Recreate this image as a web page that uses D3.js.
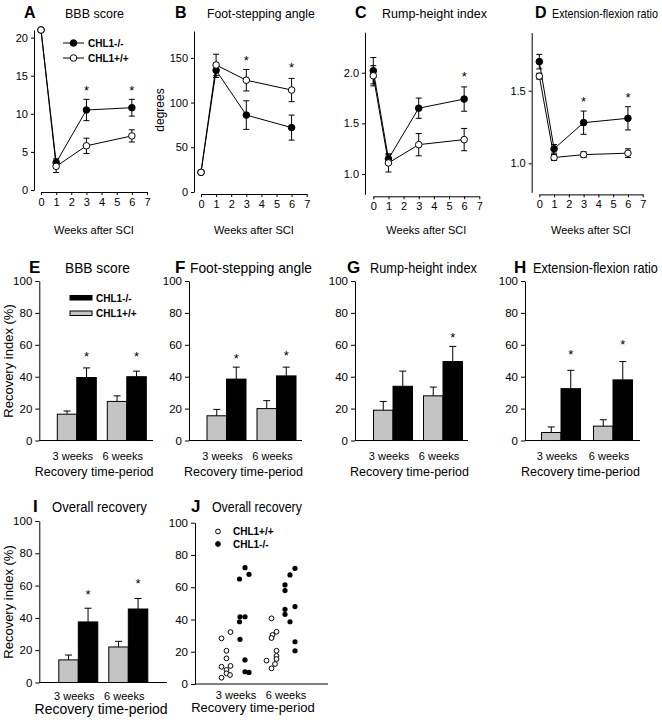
<!DOCTYPE html>
<html><head><meta charset="utf-8">
<script src="https://cdn.jsdelivr.net/npm/d3@7"></script>
<style>
body{margin:0;background:#fff}
svg{display:block;font-family:"Liberation Sans",Arial,sans-serif}
</style></head><body>
<svg id="fig" width="662" height="720"></svg>
<script>
/*** Data ***/
const weeks = [0, 1, 3, 6]
const weekTicks = [0, 1, 2, 3, 4, 5, 6, 7]
const groups = ["3 weeks", "6 weeks"]

// A - BBB score
const bbbKO = [21, 3.6, 10.5, 10.8], bbbKOerr = [0, 0.5, 1.4, 1.1]
const bbbWT = [21, 3.1, 5.8, 7.1], bbbWTerr = [0, 0.8, 1.0, 0.8]
const bbbStars = [[3, 13.4], [6, 13.4]]
// B - foot-stepping angle
const fsaKO = [22, 136, 86, 72], fsaKOerr = [0, 8, 16, 14]
const fsaWT = [22, 142, 125, 114], fsaWTerr = [0, 12, 12, 13]
const fsaStars = [[3, 150], [6, 142]]
// C - rump-height index
const rhiKO = [2.02, 1.15, 1.65, 1.74], rhiKOerr = [0.13, 0.04, 0.10, 0.12]
const rhiWT = [1.97, 1.11, 1.29, 1.34], rhiWTerr = [0.10, 0.09, 0.11, 0.11]
const rhiStars = [[6, 1.99]]
// D - extension-flexion ratio
const efrKO = [1.70, 1.10, 1.28, 1.31], efrKOerr = [0.05, 0.03, 0.08, 0.08]
const efrWT = [1.60, 1.04, 1.06, 1.07], efrWTerr = [0.02, 0.02, 0.02, 0.03]
const efrStars = [[3, 1.44], [6, 1.47]]

// E-I recovery index (%) : [3 weeks, 6 weeks]
const recBBB_WT = [16.5, 24.5], recBBB_WTerr = [2, 3.5]
const recBBB_KO = [39.5, 40], recBBB_KOerr = [6, 3.5]
const recBBBStars = [54, 54]
const recFSA_WT = [15.5, 20], recFSA_WTerr = [4, 5]
const recFSA_KO = [38.5, 40.5], recFSA_KOerr = [7.5, 5.5]
const recFSAStars = [53, 55]
const recRHI_WT = [19, 28], recRHI_WTerr = [5.5, 5.5]
const recRHI_KO = [34, 49.5], recRHI_KOerr = [9.5, 9.5]
const recRHIStars = [null, 66]
const recEFR_WT = [5, 9], recEFR_WTerr = [3.5, 4]
const recEFR_KO = [32.5, 38], recEFR_KOerr = [11.5, 11.5]
const recEFRStars = [55.5, 62]
const recAll_WT = [14, 22], recAll_WTerr = [3, 3.5]
const recAll_KO = [37.5, 45.5], recAll_KOerr = [8.5, 6.5]
const recAllStars = [56, 63]

// J - individual animals, [position, recovery %]; position 1 = 3 weeks, 2 = 6 weeks
const indivWT = [
	[0.71, 28.3], [0.89, 32.2], [0.81, 20.6], [0.81, 15.9], [0.71, 10.7],
	[0.89, 11.2], [0.81, 8.7], [0.81, 6.6], [0.88, 5.6], [0.71, 3.9],
	[1.71, 40.7], [1.81, 32.4], [1.73, 30.4], [1.71, 28.5], [1.81, 20.6],
	[1.81, 17.4], [1.81, 15.5], [1.61, 14.5], [1.78, 12.4], [1.71, 9.7]
]
const indivKO = [
	[1.18, 72.1], [1.07, 65.1], [1.26, 68.0], [1.08, 41.7], [1.18, 41.7],
	[1.07, 38.6], [1.08, 27.7], [1.18, 14.9], [1.18, 7.6], [1.26, 7.2],
	[2.18, 71.7], [2.08, 67.6], [1.98, 61.4], [1.98, 57.9], [1.98, 46.3],
	[2.18, 48.0], [1.98, 43.2], [2.08, 38.6], [2.18, 26.2], [2.18, 20.6]
]

/*** Utils ***/
const svg = d3.select("#fig")
const GRAY = "#c4c4c4"

function txt(x, y, s, size, opt) {
	opt = opt || {}
	var t = svg.append("text")
		.attr("x", x).attr("y", y)
		.attr("font-size", size)
		.attr("fill", "#000")
		.attr("text-anchor", opt.anchor ?? "start")
		.text(s)
	if (opt.bold) t.attr("font-weight", "bold")
	if (opt.len) {
		// squeeze the title horizontally so it keeps its height but fits the width
		var w = t.node().getComputedTextLength()
		t.attr("x", 0).attr("y", 0)
			.attr("transform", "translate(" + x + "," + y + ") scale(" + Math.min(1, opt.len / w) + ",1)")
	}
	if (opt.rot) t.attr("transform", "rotate(-90," + x + "," + y + ")")
	return t
}

function styleAxis(g, fs) {
	g.selectAll("path,line").attr("stroke", "#000").attr("stroke-width", 1)
	g.selectAll("text").attr("font-size", fs).attr("fill", "#000")
		.attr("font-family", "Liberation Sans, Arial, sans-serif")
}

function errBar(g, x, y, v, e, both, cap) {
	if (!e) return
	g.append("line").attr("x1", x).attr("x2", x)
		.attr("y1", y(v + e)).attr("y2", both ? y(v - e) : y(v))
		.attr("stroke", "#000")
	g.append("line").attr("x1", x - cap).attr("x2", x + cap)
		.attr("y1", y(v + e)).attr("y2", y(v + e)).attr("stroke", "#000")
	if (both) g.append("line").attr("x1", x - cap).attr("x2", x + cap)
		.attr("y1", y(v - e)).attr("y2", y(v - e)).attr("stroke", "#000")
}

/*** Line panels (A-D) ***/
function linePanel(c) {
	var x = d3.scaleLinear().domain([0, 7]).range(c.xr)
	var y = d3.scaleLinear().domain(c.dom).range(c.yr)
	var g = svg.append("g")

	var ya = g.append("g").attr("transform", "translate(" + c.axisX + ",0)")
		.call(d3.axisLeft(y).tickValues(c.ticks).tickSize(3).tickSizeOuter(0).tickFormat(d3.format(c.fmt)))
	styleAxis(ya, 11)
	var xa = g.append("g").attr("transform", "translate(0," + (c.yr[0] + 2) + ")")
		.call(d3.axisBottom(x).tickValues(weekTicks).tickSize(3).tickSizeOuter(0).tickFormat(d3.format("d")))
	styleAxis(xa, 11)

	var line = d3.line().x((d, i) => x(weeks[i])).y(d => y(d))
	;[[c.ko, c.koE, "#000"], [c.wt, c.wtE, "#fff"]].forEach(([vals, errs, fill]) => {
		vals.forEach((v, i) => errBar(g, x(weeks[i]), y, v, errs[i], true, 3))
		g.append("path").datum(vals).attr("d", line)
			.attr("fill", "none").attr("stroke", "#000").attr("stroke-width", 1)
		g.selectAll(null).data(vals).enter().append("circle")
			.attr("cx", (d, i) => x(weeks[i])).attr("cy", d => y(d)).attr("r", 3.3)
			.attr("fill", fill).attr("stroke", "#000").attr("stroke-width", 1)
	})
	c.stars.forEach(([w, v]) => txt(x(w), y(v) + 7, "*", 13, {anchor: "middle"}))

	txt(c.lx, 18, c.letter, 16, {bold: true})
	txt(c.tx, 18, c.title, 12.5, {len: c.tl})
	txt((c.xr[0] + c.xr[1]) / 2, 234, "Weeks after SCI", 11, {anchor: "middle"})
	return {x, y, g}
}

linePanel({axisX: 34, xr: [41, 147], dom: [0, 21], yr: [190, 30], ticks: [0, 5, 10, 15, 20], fmt: "d",
	ko: bbbKO, koE: bbbKOerr, wt: bbbWT, wtE: bbbWTerr, stars: bbbStars,
	letter: "A", lx: 24, title: "BBB score", tx: 65, tl: 62})
linePanel({axisX: 194, xr: [201, 306.7], dom: [0, 180], yr: [192, 31], ticks: [0, 50, 100, 150], fmt: "d",
	ko: fsaKO, koE: fsaKOerr, wt: fsaWT, wtE: fsaWTerr, stars: fsaStars,
	letter: "B", lx: 175, title: "Foot-stepping angle", tx: 207, tl: 108})
linePanel({axisX: 365, xr: [373.3, 479.3], dom: [0.8, 2.4], yr: [194.3, 32.2], ticks: [1.0, 1.5, 2.0], fmt: ".1f",
	ko: rhiKO, koE: rhiKOerr, wt: rhiWT, wtE: rhiWTerr, stars: rhiStars,
	letter: "C", lx: 355, title: "Rump-height index", tx: 382, tl: 105})
linePanel({axisX: 531.7, xr: [539.3, 642.7], dom: [0.8, 1.9], yr: [192.4, 32.6], ticks: [1.0, 1.5], fmt: ".1f",
	ko: efrKO, koE: efrKOerr, wt: efrWT, wtE: efrWTerr, stars: efrStars,
	letter: "D", lx: 535, title: "Extension-flexion ratio", tx: 552, tl: 106})
txt(164, 110, "degrees", 12, {anchor: "middle", rot: true})

// legend A
;[["CHL1-/-", "#000", 43], ["CHL1+/+", "#fff", 58]].forEach(([s, f, ly]) => {
	svg.append("line").attr("x1", 63).attr("x2", 84).attr("y1", ly).attr("y2", ly).attr("stroke", "#000")
	svg.append("circle").attr("cx", 73.5).attr("cy", ly).attr("r", 3.3).attr("fill", f).attr("stroke", "#000")
	txt(88, ly + 3.5, s, 10, {bold: true})
})

/*** Bar panels (E-I) ***/
function barPanel(c) {
	var y = d3.scaleLinear().domain([0, 100]).range(c.yr)
	var x = d3.scalePoint().domain(groups).range([c.axisX + c.g1, c.axisX + c.g2])
	var bw = 19.5
	var g = svg.append("g")

	var ya = g.append("g").attr("transform", "translate(" + c.axisX + ",0)")
		.call(d3.axisLeft(y).tickValues([0, 20, 40, 60, 80, 100]).tickSize(4).tickSizeOuter(0))
	styleAxis(ya, 11.5)
	g.append("line").attr("x1", c.axisX).attr("x2", c.axisEnd)
		.attr("y1", y(0)).attr("y2", y(0)).attr("stroke", "#000")

	groups.forEach((k, i) => {
		var cx = x(k)
		g.append("rect").attr("x", cx - bw).attr("width", bw)
			.attr("y", y(c.wt[i])).attr("height", y(0) - y(c.wt[i]))
			.attr("fill", GRAY).attr("stroke", "#000").attr("stroke-width", 1)
		g.append("rect").attr("x", cx).attr("width", bw)
			.attr("y", y(c.ko[i])).attr("height", y(0) - y(c.ko[i]))
			.attr("fill", "#000").attr("stroke", "#000").attr("stroke-width", 1)
		errBar(g, cx - bw / 2, y, c.wt[i], c.wtE[i], false, 3.5)
		errBar(g, cx + bw / 2, y, c.ko[i], c.koE[i], false, 3.5)
		if (c.stars[i] != null) txt(cx + bw / 2, y(c.stars[i]) + 7, "*", 13, {anchor: "middle"})
		txt(cx - 4, y(0) + c.wly, k, 11, {anchor: "middle"})
	})
	txt((c.axisX + c.axisEnd) / 2 - 2, y(0) + c.rly, "Recovery time-period", c.rfs, {anchor: "middle"})
	txt(c.lx, c.ly, c.letter, 17, {bold: true})
	txt(c.tx, c.ly, c.title, 14, {len: c.tl})
	return {x, y, g}
}

var rowY = [440.5, 281]
barPanel({axisX: 39.3, yr: rowY, g1: 37.5, g2: 87.5, axisEnd: 153, wt: recBBB_WT, wtE: recBBB_WTerr, ko: recBBB_KO, koE: recBBB_KOerr,
	stars: recBBBStars, letter: "E", lx: 29, ly: 273, title: "BBB score", tx: 65, tl: 65, wly: 19, rly: 35, rfs: 12.5})
barPanel({axisX: 189, yr: rowY, g1: 37.5, g2: 87.5, axisEnd: 302, wt: recFSA_WT, wtE: recFSA_WTerr, ko: recFSA_KO, koE: recFSA_KOerr,
	stars: recFSAStars, letter: "F", lx: 175, ly: 273, title: "Foot-stepping angle", tx: 190, tl: 122, wly: 19, rly: 35, rfs: 12.5})
barPanel({axisX: 355, yr: rowY, g1: 38, g2: 88, axisEnd: 468, wt: recRHI_WT, wtE: recRHI_WTerr, ko: recRHI_KO, koE: recRHI_KOerr,
	stars: recRHIStars, letter: "G", lx: 347, ly: 273, title: "Rump-height index", tx: 370, tl: 107, wly: 19, rly: 35, rfs: 12.5})
barPanel({axisX: 525, yr: rowY, g1: 36, g2: 88, axisEnd: 640, wt: recEFR_WT, wtE: recEFR_WTerr, ko: recEFR_KO, koE: recEFR_KOerr,
	stars: recEFRStars, letter: "H", lx: 514, ly: 273, title: "Extension-flexion ratio", tx: 533, tl: 125, wly: 19, rly: 35, rfs: 12.5})
barPanel({axisX: 39.3, yr: [682.5, 521], g1: 39, g2: 89, axisEnd: 167, wt: recAll_WT, wtE: recAll_WTerr, ko: recAll_KO, koE: recAll_KOerr,
	stars: recAllStars, letter: "I", lx: 33, ly: 512, title: "Overall recovery", tx: 52, tl: 95, wly: 17, rly: 31, rfs: 14})

txt(13, 361, "Recovery index (%)", 13, {anchor: "middle", rot: true})
txt(13, 602, "Recovery index (%)", 13, {anchor: "middle", rot: true})

// legend E
;[["CHL1-/-", "#000", 295.5], ["CHL1+/+", GRAY, 311]].forEach(([s, f, ly]) => {
	svg.append("rect").attr("x", 70).attr("y", ly).attr("width", 22).attr("height", 4.5)
		.attr("fill", f).attr("stroke", "#000")
	txt(96, ly + 6, s, 10, {bold: true})
})

/*** Scatter panel (J) ***/
;(function () {
	var x = d3.scaleLinear().domain([0, 3]).range([186, 336])
	var y = d3.scaleLinear().domain([0, 100]).range([684, 522.7])
	var g = svg.append("g")
	var ya = g.append("g").attr("transform", "translate(195,0)")
		.call(d3.axisLeft(y).tickValues([0, 20, 40, 60, 80, 100]).tickSize(4).tickSizeOuter(0))
	styleAxis(ya, 11.5)
	g.append("line").attr("x1", 195).attr("x2", 328).attr("y1", y(0)).attr("y2", y(0)).attr("stroke", "#000")
	g.selectAll(null).data(indivWT).enter().append("circle")
		.attr("cx", d => x(d[0])).attr("cy", d => y(d[1])).attr("r", 2.4)
		.attr("fill", "#fff").attr("stroke", "#000").attr("stroke-width", 1)
	g.selectAll(null).data(indivKO).enter().append("circle")
		.attr("cx", d => x(d[0])).attr("cy", d => y(d[1])).attr("r", 2.6)
		.attr("fill", "#000")
	groups.forEach((k, i) => txt(x(i + 1), y(0) + 15, k, 11, {anchor: "middle"}))
	txt(253, y(0) + 28, "Recovery time-period", 13, {anchor: "middle"})
	txt(191, 512, "J", 17, {bold: true})
	txt(212, 512, "Overall recovery", 14, {len: 90})
	;[["CHL1+/+", "#fff", 531.5], ["CHL1-/-", "#000", 544]].forEach(([s, f, ly]) => {
		g.append("circle").attr("cx", 218).attr("cy", ly).attr("r", 2.4).attr("fill", f).attr("stroke", "#000")
		txt(233, ly + 3.5, s, 10, {bold: true})
	})
})()
</script>
</body></html>
